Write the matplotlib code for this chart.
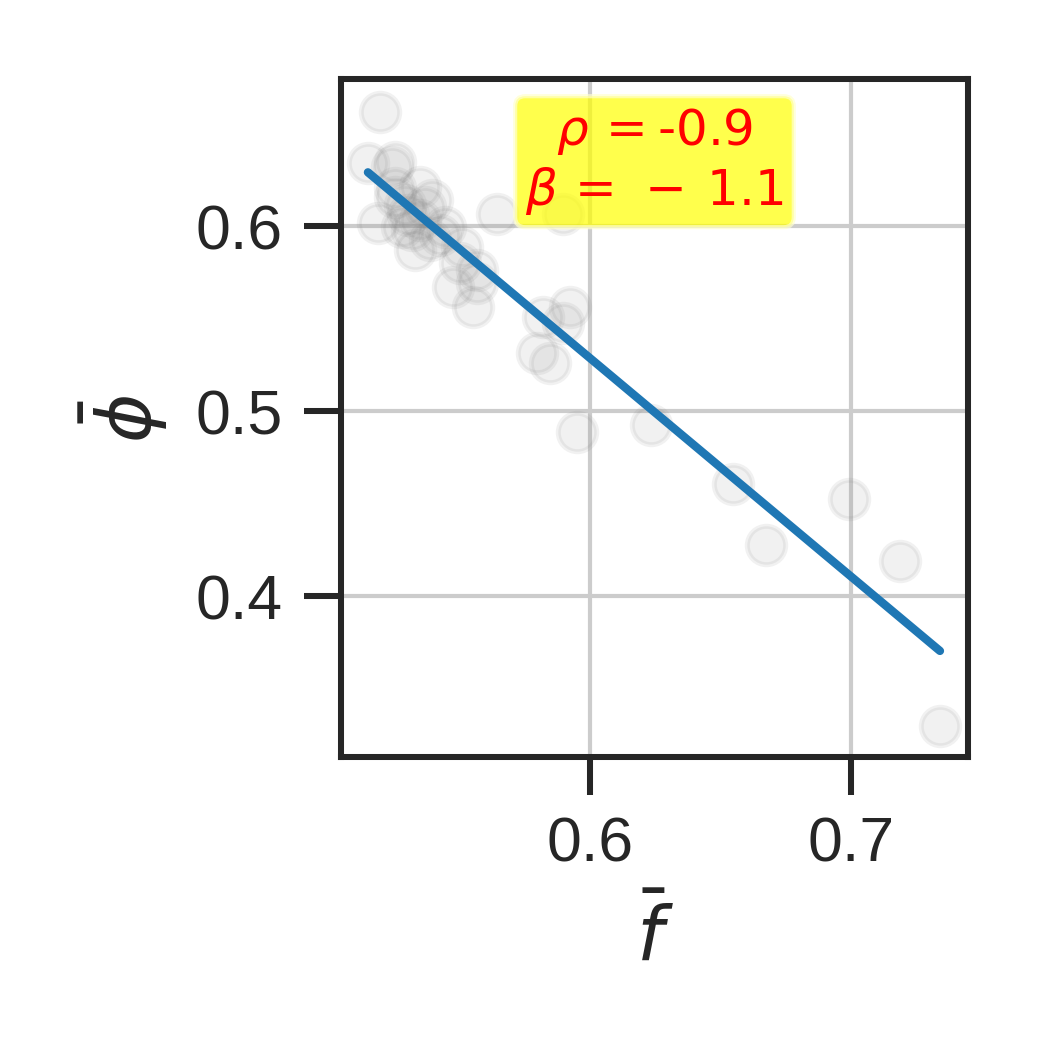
import numpy as np
import matplotlib
matplotlib.use("Agg")
import matplotlib.pyplot as plt
import seaborn as sns

# mean f and mean phi per sample
f_mean = [0.5195, 0.5149, 0.5253, 0.5241, 0.5253, 0.5349, 0.5188, 0.5253,
          0.5368, 0.5318, 0.5330, 0.5444, 0.5280, 0.5644, 0.5395, 0.5510,
          0.5897, 0.5502, 0.5567, 0.5475, 0.5552, 0.5567, 0.5820, 0.5923,
          0.5897, 0.5797, 0.5847, 0.5950, 0.6234, 0.6548, 0.6674, 0.6992,
          0.7188, 0.7341, 0.5303, 0.5349, 0.5425, 0.5387, 0.5291]
phi_mean = [0.6616, 0.6341, 0.6346, 0.6319, 0.6205, 0.6211, 0.6016, 0.6157,
            0.6103, 0.5978, 0.5870, 0.5995, 0.5995, 0.6065, 0.6141, 0.5886,
            0.6065, 0.5800, 0.5762, 0.5670, 0.5562, 0.5692, 0.5508, 0.5562,
            0.5476, 0.5314, 0.5259, 0.4886, 0.4924, 0.4605, 0.4276, 0.4524,
            0.4189, 0.3297, 0.6059, 0.6032, 0.5951, 0.5924, 0.6114]
rho = -0.9
beta = -1.1

sns.set_style("ticks", {"axes.grid": True})
plt.rcParams["font.family"] = ["Liberation Sans", "DejaVu Sans"]

fig = plt.figure(figsize=(3.5, 3.5), dpi=300)
ax = fig.add_axes([0.3248, 0.279, 0.597, 0.6457])

x = np.array(f_mean)
y = np.array(phi_mean)
ax.scatter(x, y, s=85, color="gray", alpha=0.11, linewidths=1.2, zorder=2)

slope, icpt = np.polyfit(x, y, 1)
xs = np.array([x.min(), x.max()])
ax.plot(xs, slope * xs + icpt, color="#1f77b4", lw=2.0, solid_capstyle="round", zorder=3)

ax.set_xlim(0.5046, 0.7448)
ax.set_ylim(0.313, 0.6795)
ax.set_xticks([0.6, 0.7])
ax.set_yticks([0.4, 0.5, 0.6])
ax.grid(True, color="#cccccc", lw=1.0)
ax.set_axisbelow(True)

for sp in ax.spines.values():
    sp.set_linewidth(1.45)
    sp.set_color("#262626")
ax.tick_params(axis="both", length=9, width=1.45, labelsize=15, colors="#262626",
               pad=5)
ax.set_xlabel(r"$\bar{f}$", fontsize=18, color="#262626", labelpad=6)
ax.set_ylabel(r"$\bar{\phi}$", fontsize=18, color="#262626", labelpad=6)

label = r"$\rho\,=$" + f"{rho}" + "\n" + r"$\beta\,=\,-\:{}$".format(abs(beta))
ax.text(0.5, 0.96, label,
        transform=ax.transAxes, ha="center", va="top", fontsize=12, color="red",
        family="DejaVu Sans", linespacing=1.2,
        bbox=dict(boxstyle="round,pad=0.2", facecolor="yellow", edgecolor="#ffffcc",
                  alpha=0.7), zorder=4)

fig.savefig("out.png", dpi=300)
